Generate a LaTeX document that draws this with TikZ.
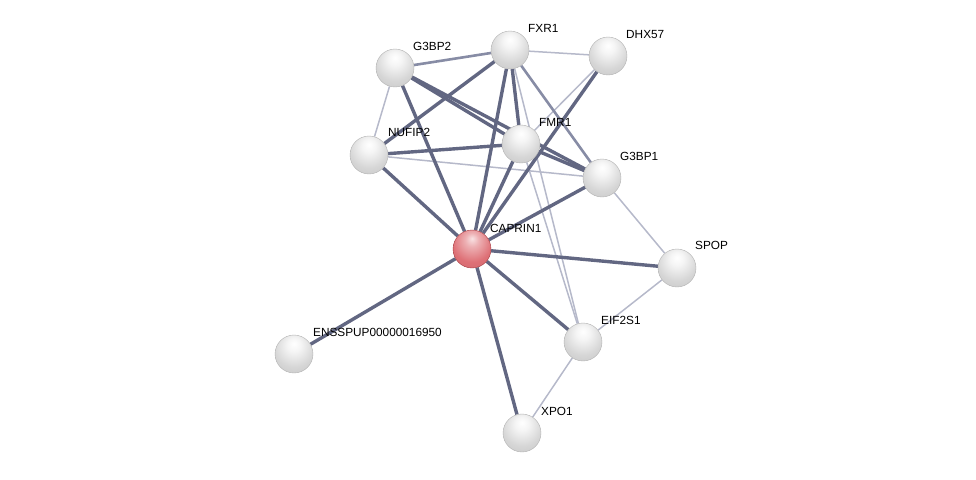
\documentclass[tikz,border=0pt]{standalone}
\usepackage{fontspec}
\setmainfont{Liberation Sans}
\usetikzlibrary{calc,backgrounds}
\definecolor{linkdark}{RGB}{98,103,130}
\definecolor{linkmid}{RGB}{135,140,165}
\definecolor{linklight}{RGB}{182,185,202}
\definecolor{pearlmid}{RGB}{214,214,214}
\definecolor{pearlrim}{RGB}{150,150,150}
\definecolor{rosemid}{RGB}{222,112,118}
\definecolor{roserim}{RGB}{165,58,64}
\pgfdeclareradialshading{pearl}{\pgfpoint{0bp}{14bp}}{color(0bp)=(white); color(9bp)=(white!92!gray);
  color(26bp)=(pearlmid); color(50bp)=(pearlmid!88!black); color(60bp)=(pearlrim); color(70bp)=(pearlrim)}
\pgfdeclareradialshading{rose}{\pgfpoint{0bp}{14bp}}{color(0bp)=(white!80!rosemid); color(9bp)=(white!45!rosemid);
  color(26bp)=(rosemid); color(50bp)=(rosemid!90!black); color(60bp)=(roserim); color(70bp)=(roserim)}

\begin{document}
\begin{tikzpicture}[
  x=1pt, y=-1pt,
  protein/.style={circle, minimum size=38pt, inner sep=0pt, shading=pearl, draw=gray!60, line width=0.4pt},
  query/.style={protein, shading=rose, draw=roserim},
  tag/.style={anchor=west, inner sep=0pt, font=\fontsize{11.8}{13}\selectfont},
  strong/.style={draw=linkdark, line width=3.4pt},
  medium/.style={draw=linkmid, line width=2.6pt},
  weak/.style={draw=linklight, line width=1.5pt}
]
\useasboundingbox (0,0) rectangle (976,479);

% proteins
\node[protein] (g3bp2) at (395,68) {};
\node[protein] (fxr1) at (510,50) {};
\node[protein] (dhx57) at (608,56) {};
\node[protein] (nufip2) at (369,155) {};
\node[protein] (fmr1) at (521,144) {};
\node[protein] (g3bp1) at (602,178) {};
\node[query] (caprin1) at (472,249) {};
\node[protein] (spop) at (677,268) {};
\node[protein] (eif2s1) at (583,342) {};
\node[protein] (enssp) at (294,354) {};
\node[protein] (xpo1) at (522,433) {};

% names
\node[tag] (t-g3bp2) at ($(g3bp2)+(18,-22)$) {G3BP2};
\node[tag] (t-fxr1) at ($(fxr1)+(18,-22)$) {FXR1};
\node[tag] (t-dhx57) at ($(dhx57)+(18,-22)$) {DHX57};
\node[tag] (t-nufip2) at ($(nufip2)+(19,-23)$) {NUFIP2};
\node[tag] (t-fmr1) at ($(fmr1)+(18,-22)$) {FMR1};
\node[tag] (t-g3bp1) at ($(g3bp1)+(18,-22)$) {G3BP1};
\node[tag] (t-caprin1) at ($(caprin1)+(18,-21)$) {CAPRIN1};
\node[tag] (t-spop) at ($(spop)+(18,-23)$) {SPOP};
\node[tag] (t-eif2s1) at ($(eif2s1)+(18,-22)$) {EIF2S1};
\node[tag] (t-enssp) at ($(enssp)+(19,-22)$) {ENSSPUP00000016950};
\node[tag] (t-xpo1) at ($(xpo1)+(19,-22)$) {XPO1};

% links
\begin{scope}[on background layer]
\foreach \a/\b in {fxr1/dhx57, g3bp2/nufip2, nufip2/g3bp1, dhx57/fmr1, fxr1/eif2s1,
                   fmr1/eif2s1, g3bp1/spop, spop/eif2s1, eif2s1/xpo1}
  \draw[weak] (\a) -- (\b);
\foreach \a/\b in {g3bp2/fxr1, fxr1/g3bp1}
  \draw[medium] (\a) -- (\b);
\foreach \a/\b in {g3bp2/caprin1, g3bp2/fmr1, g3bp2/g3bp1, fxr1/caprin1, fxr1/fmr1,
                   fxr1/nufip2, nufip2/fmr1, nufip2/caprin1, fmr1/g3bp1, fmr1/caprin1,
                   g3bp1/caprin1, dhx57/caprin1, caprin1/spop, caprin1/eif2s1,
                   caprin1/xpo1, caprin1/enssp}
  \draw[strong] (\a) -- (\b);
\end{scope}
\end{tikzpicture}
\end{document}
